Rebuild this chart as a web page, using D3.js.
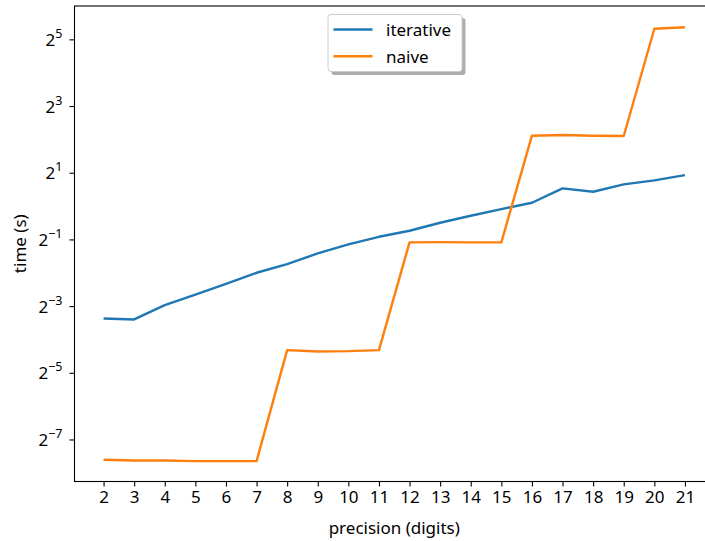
<!DOCTYPE html>
<html>
<head>
  <meta charset="utf-8">
  <title>iterative vs naive</title>
  <script src="https://d3js.org/d3.v7.min.js"></script>
  <style>
    body { margin: 0; background: #fff; }
    text { font-family: "Noto Sans", sans-serif; fill: #000; }
  </style>
</head>
<body>
  <svg width="705" height="541"></svg>
  <script>
// values (seconds)
const precision = [2, 3, 4, 5, 6, 7, 8, 9, 10, 11, 12, 13, 14, 15, 16, 17, 18, 19, 20, 21];
const iterative = [0.0967, 0.0947, 0.1276, 0.159, 0.198, 0.25, 0.299, 0.374, 0.451, 0.528,
                   0.599, 0.707, 0.818, 0.939, 1.072, 1.444, 1.347, 1.569, 1.705, 1.905];
const naive = [0.00512, 0.00505, 0.00505, 0.00498, 0.00498, 0.00498, 0.0501, 0.0487, 0.049, 0.0501,
               0.470, 0.473, 0.470, 0.470, 4.32, 4.38, 4.32, 4.29, 39.9, 41.1];
const yTickExp = [-7, -5, -3, -1, 1, 3, 5];
const seriesNames = ['iterative', 'naive'];
const seriesColors = ['#1f77b4', '#ff7f0e'];

const svg = d3.select('svg');
const plotL = 74.5, plotR = 714, plotT = 6, plotB = 481.5;

// axis limits like matplotlib's 5% margins
const x = d3.scaleLinear().domain([1.05, 21.95]).range([plotL, plotR]);
const y = d3.scaleLog().base(2).domain([Math.pow(2, -8.26), Math.pow(2, 6.0)]).range([plotB, plotT]);

// lines
const line = d3.line()
  .x((d, i) => x(precision[i]))
  .y(d => y(d));

[iterative, naive].forEach((vals, k) => {
  svg.append('path')
    .datum(vals)
    .attr('fill', 'none')
    .attr('stroke', seriesColors[k])
    .attr('stroke-width', 2.4)
    .attr('stroke-linejoin', 'round')
    .attr('d', line);
});

// x axis
const xAxis = svg.append('g')
  .attr('transform', `translate(0,${plotB})`)
  .call(d3.axisBottom(x).tickValues(precision).tickSize(5).tickPadding(4).tickSizeOuter(0));
xAxis.select('.domain').remove();
xAxis.selectAll('line').attr('stroke', '#000').attr('stroke-width', 1.1);
xAxis.selectAll('text').attr('font-size', 17).attr('font-family', '"Noto Sans", sans-serif');

// y axis
const yAxis = svg.append('g')
  .attr('transform', `translate(${plotL},0)`)
  .call(d3.axisLeft(y).tickValues(yTickExp.map(e => Math.pow(2, e))).tickSize(5).tickSizeOuter(0).tickFormat(''));
yAxis.select('.domain').remove();
yAxis.selectAll('line').attr('stroke', '#000').attr('stroke-width', 1.1);
yAxis.selectAll('.tick').each(function (d, i) {
  const e = yTickExp[i];
  const t = d3.select(this).append('text')
    .attr('x', -12)
    .attr('y', 6)
    .attr('text-anchor', 'end')
    .attr('font-size', 17);
  t.append('tspan').text('2');
  t.append('tspan')
    .attr('font-size', 12.5)
    .attr('dy', -8)
    .text(e < 0 ? '\u2212' + Math.abs(e) : String(e));
});

// spines
svg.append('rect')
  .attr('x', plotL).attr('y', plotT)
  .attr('width', plotR - plotL).attr('height', plotB - plotT)
  .attr('fill', 'none').attr('stroke', '#000').attr('stroke-width', 1.1);

// axis labels
svg.append('text')
  .attr('x', (plotL + plotR) / 2).attr('y', 534)
  .attr('text-anchor', 'middle').attr('font-size', 17)
  .text('precision (digits)');
svg.append('text')
  .attr('transform', `translate(26,${(plotT + plotB) / 2}) rotate(-90)`)
  .attr('text-anchor', 'middle').attr('font-size', 17)
  .text('time (s)');

// legend
const lg = svg.append('g').attr('transform', 'translate(328,14.5)');
lg.append('rect')
  .attr('x', 3.5).attr('y', 3.5).attr('width', 134).attr('height', 57).attr('rx', 3)
  .attr('fill', '#999').attr('opacity', 0.8);
lg.append('rect')
  .attr('width', 134).attr('height', 57).attr('rx', 3)
  .attr('fill', '#fff').attr('stroke', '#ccc').attr('stroke-width', 1);
seriesNames.forEach((name, k) => {
  const yy = 15 + k * 26.7;
  lg.append('line')
    .attr('x1', 5.5).attr('x2', 44.5).attr('y1', yy).attr('y2', yy)
    .attr('stroke', seriesColors[k]).attr('stroke-width', 2.4);
  lg.append('text')
    .attr('x', 58).attr('y', yy + 6.5)
    .attr('font-size', 17)
    .text(name);
});
  </script>
</body>
</html>
